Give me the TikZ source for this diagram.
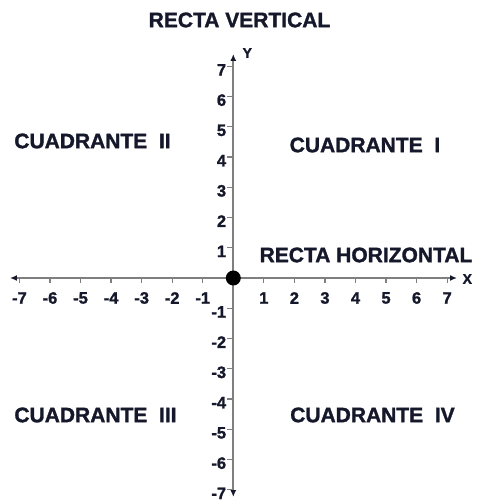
\documentclass[tikz,border=0pt]{standalone}
\usepackage{fontspec}
\setmainfont{Liberation Sans}[BoldFeatures={FakeBold=1.4}]
\usepackage{xcolor}
\usepackage{tikz}
\usetikzlibrary{arrows.meta,positioning}
\definecolor{PLText}{HTML}{15182A}
\definecolor{PLAxis}{HTML}{7F7F7F}
\tikzset{
  quadlab/.style={font=\fontsize{21}{24}\selectfont\bfseries, text=PLText, inner sep=0pt},
  ticklab/.style={font=\fontsize{16.5}{18}\selectfont\bfseries, text=PLText, inner sep=0pt},
  axislab/.style={font=\fontsize{14}{16}\selectfont\bfseries, text=PLText, inner sep=0pt},
  axisline/.style={draw=PLAxis, line width=1.8pt, {Latex[length=7pt,width=6pt,color=PLText]}-{Latex[length=7pt,width=6pt,color=PLText]}},
  tickline/.style={draw=PLAxis, line width=1.2pt}
}

\begin{document}
\begin{tikzpicture}[x=30.55pt, y=30.25pt]
\useasboundingbox (-233.3pt,-224pt) rectangle (244.7pt,278pt);
% ejes
\coordinate (xizq) at (-223.3pt,0);
\coordinate (xder) at (223.7pt,0);
\coordinate (yarr) at (0,224pt);
\coordinate (yaba) at (0,-219pt);
\draw[axisline] (xizq) -- (xder);
\draw[axisline] (yaba) -- (yarr);
\node[axislab] (ejex) at (234pt,-1pt) {X};
\node[axislab] (ejey) at (14pt,225pt) {Y};
% marcas
\foreach \i in {-7,...,-1,1,2,...,7}{
  \draw[tickline] (\i,0) -- ++(0,-5pt);
  \node[ticklab] (xl\i) at (\i,-20pt) {\i};
  \draw[tickline] (0,\i) -- ++(-6pt,0);
  \node[ticklab, anchor=east] (yl\i) at (-7pt,\i-0.12) {\i};
}
\node[circle, fill=black, minimum size=15pt, inner sep=0pt] (origen) at (0,0) {};
% textos
\node[quadlab] (rvert) at (6.2pt,258pt) {RECTA VERTICAL};
\node[quadlab] (rhoriz) at (132.7pt,23pt) {RECTA HORIZONTAL};
\node[quadlab] (cuadI) at (131.7pt,133pt) {CUADRANTE\ \ I};
\node[quadlab] (cuadII) at (-140.8pt,137pt) {CUADRANTE\ \ II};
\node[quadlab] (cuadIII) at (-137.8pt,-137pt) {CUADRANTE\ \ III};
\node[quadlab] (cuadIV) at (139.2pt,-137pt) {CUADRANTE\ \ IV};
\end{tikzpicture}
\end{document}
